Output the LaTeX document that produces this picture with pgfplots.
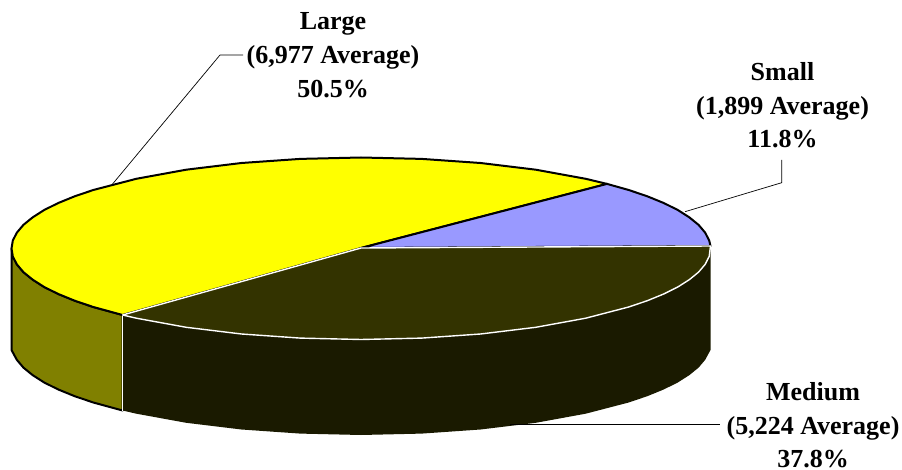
\documentclass[border=0pt]{standalone}
\usepackage{pgfplots}
\pgfplotsset{compat=1.18}
\usepackage{fontspec}
\setmainfont{Liberation Serif}
\definecolor{bigtop}{RGB}{255,255,0}
\definecolor{bigwall}{RGB}{128,128,0}
\definecolor{smalltop}{RGB}{153,153,255}
\definecolor{midtop}{RGB}{51,51,0}
\definecolor{midwall}{RGB}{26,26,0}
\tikzset{lab/.style={anchor=base, inner sep=0pt, font=\fontsize{26}{30}\selectfont\bfseries}}
\begin{document}
\begin{tikzpicture}
\useasboundingbox (0,0) rectangle (902pt,470pt);
\begin{axis}[
    scale only axis,
    width=902pt,
    height=470pt,
    xmin=0, xmax=902,
    ymin=0, ymax=470,
    y dir=reverse,
    hide axis,
    clip=false,
    no markers,
    every axis plot/.append style={line join=round}
]
% side walls
\addplot[fill=bigwall, draw=black, line width=2pt] coordinates {
    (122.6,315) (93.3,307) (74.7,300.7) (58.3,294) (44.2,287) (32.6,279.6) (23.4,272.1)
    (16.8,264.3) (12.8,256.4) (11.5,248.5)
    (11.5,350) (16.8,359.8) (23.4,367.6) (32.6,375.1) (44.2,382.5) (58.3,389.5)
    (74.7,396.2) (93.3,402.5) (122.6,410.5)
} -- cycle;
\addplot[fill=midwall, draw=none] coordinates {
    (710.5,246) (709.2,256.4) (705.2,264.3) (698.6,272.1) (689.4,279.6) (677.8,287)
    (663.7,294) (647.3,300.7) (628.7,307) (585.7,318.2)
    (535.8,327.3) (480.5,334) (421.7,338.1) (361,339.5) (300.3,338.1) (241.5,334)
    (186.2,327.3) (136.3,318.2) (122.6,315)
    (122.6,410.5) (136.3,413.7) (186.2,422.8) (241.5,429.5) (300.3,433.6) (361,435)
    (421.7,433.6) (480.5,429.5) (535.8,422.8) (585.7,413.7) (628.7,402.5) (647.3,396.2)
    (663.7,389.5) (677.8,382.5) (689.4,375.1) (698.6,367.6) (705.2,359.8) (710.5,350)
} -- cycle;
\addplot[white, line width=1.4pt] coordinates {(122.6,315) (122.6,411)};
\addplot[white, line width=0.5pt] coordinates {(710.8,250) (710.8,350)};
% top faces
\addplot[fill=bigtop, draw=black, line width=2pt] coordinates {
    (361,248) (122.6,315) (93.3,307) (74.7,300.7) (58.3,294) (44.2,287) (32.6,279.6)
    (23.4,272.1) (16.8,264.3) (12.8,256.4) (11.5,248.5) (12.8,240.6) (16.8,232.7)
    (23.4,224.9) (32.6,217.4) (44.2,210) (58.3,203) (74.7,196.3) (93.3,190) (136.3,178.8)
    (186.2,169.7) (241.5,163) (300.3,158.9) (361,157.5) (421.7,158.9) (480.5,163)
    (535.8,169.7) (585.7,178.8) (607,183.9)
} -- cycle;
\addplot[fill=smalltop, draw=black, line width=2pt] coordinates {
    (361,248) (607,183.9) (628.7,190) (647.3,196.3) (663.7,203) (677.8,210) (689.4,217.4)
    (698.6,224.9) (705.2,232.7) (709.2,240.6) (710.5,246)
} -- cycle;
\addplot[fill=midtop, draw=white, line width=1.4pt] coordinates {
    (361,248) (710.5,246) (709.2,256.4) (705.2,264.3) (698.6,272.1) (689.4,279.6)
    (677.8,287) (663.7,294) (647.3,300.7) (628.7,307)
    (585.7,318.2) (535.8,327.3) (480.5,334) (421.7,338.1) (361,339.5) (300.3,338.1)
    (241.5,334) (186.2,327.3) (136.3,318.2) (122.6,315)
} -- cycle;
% leader lines
\addplot[black, line width=0.7pt] coordinates {(112.3,184.3) (220,55) (243,55)};
\addplot[black, line width=0.7pt] coordinates {(685,211.7) (781.7,182.7) (781.7,160)};
\addplot[black, line width=0.7pt] coordinates {(510,424.5) (720,424.5)};
% labels
\node[lab] at (axis cs:333,30) {Large};
\node[lab] at (axis cs:333,64) {(6,977 Average)};
\node[lab] at (axis cs:333,98) {50.5\%};
\node[lab] at (axis cs:782.5,81) {Small};
\node[lab] at (axis cs:782.5,115) {(1,899 Average)};
\node[lab] at (axis cs:782.5,148) {11.8\%};
\node[lab] at (axis cs:813,400) {Medium};
\node[lab] at (axis cs:813,434) {(5,224 Average)};
\node[lab] at (axis cs:813,467) {37.8\%};
\end{axis}
\end{tikzpicture}
\end{document}
